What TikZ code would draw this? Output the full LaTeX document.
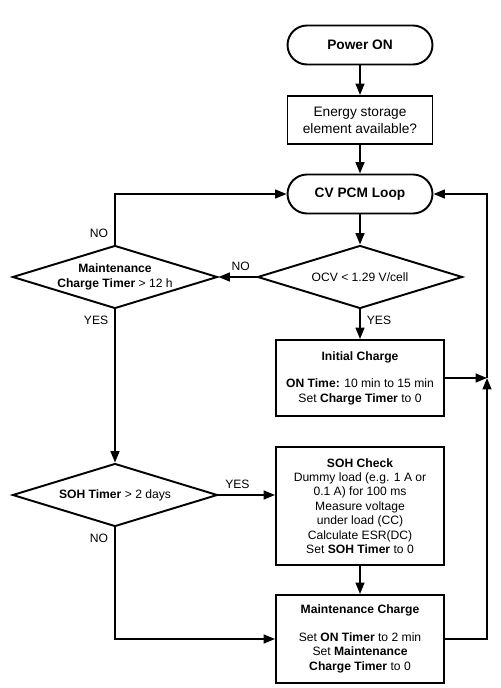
\documentclass[tikz,border=0pt]{standalone}
\usepackage{fontspec}
\setmainfont{Liberation Sans}
\usetikzlibrary{arrows.meta,shapes.geometric}

\begin{document}
\begin{tikzpicture}[x=0.02cm,y=-0.02cm,->,>={Triangle[length=6.5pt,width=5pt]},line width=1.1pt,
        base/.style={draw,align=center,font=\fontsize{6.9}{8.2}\selectfont},
        end node/.style={base,rectangle,rounded corners=3.9mm,minimum width=2.9cm,minimum height=0.78cm,font=\fontsize{7.8}{9.6}\selectfont\bfseries},
        box node/.style={base,rectangle,minimum width=3.36cm},
        dec node/.style={base,diamond,aspect=3.25,inner sep=0pt,minimum width=4.1cm,minimum height=1.26cm},
        lab/.style={font=\fontsize{6.9}{8.2}\selectfont}]

        \useasboundingbox (0,0) rectangle (500,688);

        \node[end node] (on) at (360,45) {Power ON};
        \node[box node,minimum width=2.9cm,minimum height=0.96cm,font=\fontsize{7.8}{9.6}\selectfont] (esr) at (360,120) {Energy storage\\element available?};
        \node[end node] (loop) at (360,194) {CV PCM Loop};
        \node[dec node] (ocv) at (360,277) {OCV < 1.29 V/cell};
        \node[dec node] (mct) at (115,277) {\textbf{Maintenance}\\\textbf{Charge Timer} > 12 h};
        \node[box node,minimum height=1.52cm] (init) at (360,378) {\textbf{Initial Charge}\\[7.5pt]\textbf{ON Time:} 10 min to 15 min\\Set \textbf{Charge Timer} to 0};
        \node[dec node] (soht) at (115,495) {\textbf{SOH Timer} > 2 days};
        \node[box node,minimum height=2.36cm] (soh) at (360,506) {\textbf{SOH Check}\\Dummy load (e.g. 1 A or\\0.1 A) for 100 ms\\Measure voltage\\under load (CC)\\Calculate ESR(DC)\\Set \textbf{SOH Timer} to 0};
        \node[box node,minimum height=1.76cm] (mc) at (360,639) {\textbf{Maintenance Charge}\\[7.5pt]Set \textbf{ON Timer} to 2 min\\Set \textbf{Maintenance}\\\textbf{Charge Timer} to 0};
        \coordinate (jn) at (487,378);

        \draw (on) -- (esr);
        \draw (esr) -- (loop);
        \draw (loop) -- (ocv);
        \draw (ocv) -- node[lab,anchor=south east,pos=0] {NO} (mct);
        \draw (mct.north) |- node[lab,anchor=south east,pos=0] {NO} (loop.west);
        \draw (mct.south) -- node[lab,anchor=north east,pos=0] {YES} (soht.north);
        \draw (ocv.south) -- node[lab,anchor=north west,pos=0] {YES} (init.north);
        \draw (init.east) -- (jn);
        \draw (mc.east) -| (jn);
        \draw (jn) |- (loop.east);
        \draw (soht.east) -- node[lab,anchor=south west,pos=0] {YES} (soht.east -| soh.west);
        \draw (soh) -- (mc);
        \draw (soht.south) |- node[lab,anchor=north east,pos=0] {NO} (mc.west);
      \end{tikzpicture}
\end{document}
